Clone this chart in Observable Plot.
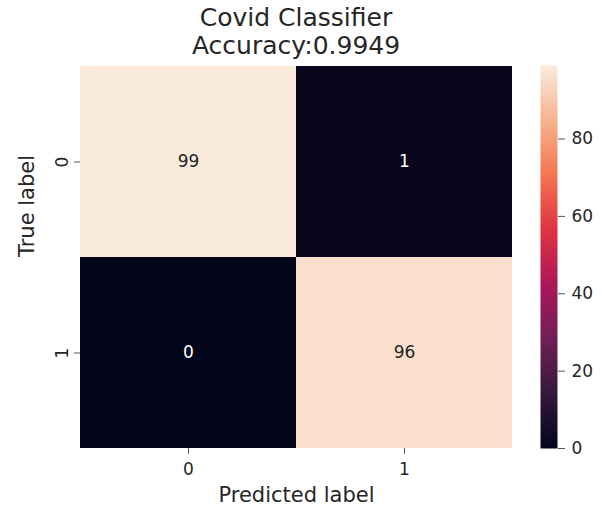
<!DOCTYPE html>
<html><head><meta charset="utf-8">
<script src="https://cdn.jsdelivr.net/npm/d3@7"></script>
<script src="https://cdn.jsdelivr.net/npm/@observablehq/plot@0.6"></script>
<style>
body{margin:0;background:#fff;font-family:"DejaVu Sans",sans-serif;}
#wrap{position:relative;width:602px;height:506px;overflow:hidden;}
#title{position:absolute;left:0;top:4px;width:592px;text-align:center;font-size:25px;line-height:28px;color:#262626;}
#main{position:absolute;left:0;top:0;}
#cbar{position:absolute;left:520px;top:0;}
</style></head>
<body><div id="wrap"><div id="title">Covid Classifier<br>Accuracy:0.9949</div><div id="main"></div><div id="cbar"></div></div>
<script>
const trueLabels = ["0", "1"];
const predLabels = ["0", "1"];
const counts = [[99, 1], [0, 96]];
const colorbarTicks = [0, 20, 40, 60, 80];
const colorMax = 99;

const rocketStops = ["#03051a", "#35193e", "#701f57", "#ad1759", "#e13342", "#f37651", "#f6b48f", "#faebdd"];
const rocket = d3.piecewise(d3.interpolateRgb, rocketStops);

const cells = [];
trueLabels.forEach((t, i) => predLabels.forEach((p, j) => cells.push({t, p, v: counts[i][j]})));

const colorOpt = {type: "linear", domain: [0, colorMax], interpolate: rocket};
const font = "DejaVu Sans";

const main = Plot.plot({
  width: 530, height: 506,
  marginTop: 65, marginLeft: 80, marginRight: 18, marginBottom: 58,
  style: {fontFamily: font, fontSize: "17px", color: "#262626", background: "transparent"},
  x: {domain: predLabels, padding: 0},
  y: {domain: trueLabels, padding: 0},
  color: colorOpt,
  marks: [
    Plot.cell(cells, {x: "p", y: "t", fill: "v"}),
    Plot.text(cells, {x: "p", y: "t", text: d => String(d.v), fill: d => d.v > colorMax / 2 ? "#262626" : "#ffffff", fontSize: 17}),
    Plot.axisX({tickSize: 6, tickPadding: 8, label: null, stroke: "#555", fontSize: 17}),
    Plot.axisY({tickSize: 6, tickPadding: 7, tickRotate: -90, label: null, stroke: "#555", fontSize: 17}),
    Plot.text(["Predicted label"], {frameAnchor: "bottom", dy: 53, fontSize: 21, fill: "#262626"}),
    Plot.text(["True label"], {frameAnchor: "left", dx: -53, rotate: -90, fontSize: 21, fill: "#262626"})
  ]
});
document.getElementById("main").appendChild(main);

const cbar = Plot.plot({
  width: 82, height: 506,
  marginTop: 65, marginBottom: 58, marginLeft: 20, marginRight: 45,
  style: {fontFamily: font, fontSize: "17px", color: "#262626", background: "transparent"},
  x: {domain: [0, 1], axis: null},
  y: {domain: [0, colorMax], axis: null},
  color: colorOpt,
  marks: [
    Plot.raster({x1: 0, x2: 1, y1: 0, y2: colorMax, width: 1, height: 300, fill: (x, y) => y}),
    Plot.axisY({anchor: "right", ticks: colorbarTicks, tickSize: 7, tickPadding: 7, label: null, stroke: "#555", fontSize: 17})
  ]
});
document.getElementById("cbar").appendChild(cbar);
</script></body></html>
